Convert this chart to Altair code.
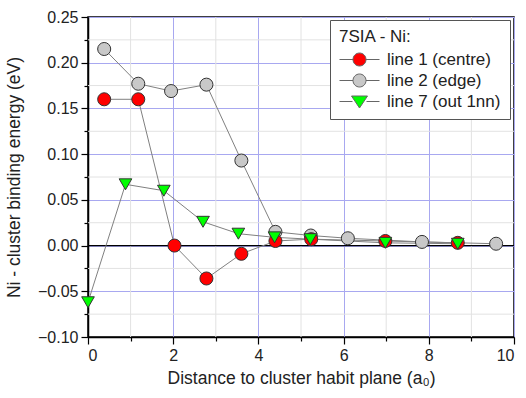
import altair as alt
import pandas as pd

# data
x1 = [0.38, 1.18, 2.03, 2.78, 3.60, 4.40, 5.24, 6.98, 8.68]
y1 = [0.160, 0.160, 0.000, -0.036, -0.009, 0.005, 0.007, 0.005, 0.003]
x2 = [0.38, 1.18, 1.95, 2.78, 3.60, 4.40, 5.23, 6.10, 7.84, 9.58]
y2 = [0.215, 0.177, 0.169, 0.176, 0.093, 0.015, 0.011, 0.008, 0.004, 0.002]
x7 = [0.00, 0.88, 1.78, 2.70, 3.53, 4.38, 5.22, 6.98, 8.68]
y7 = [-0.062, 0.067, 0.060, 0.026, 0.013, 0.009, 0.007, 0.003, 0.002]
series = ["line 1 (centre)", "line 2 (edge)", "line 7 (out 1nn)"]
fills = ["#ff0000", "#c8c8c8", "#00ff00"]
x_major = [0, 2, 4, 6, 8, 10]
y_major = [-0.10, -0.05, 0.00, 0.05, 0.10, 0.15, 0.20, 0.25]
x_minor = [1, 3, 5, 7, 9]
y_minor = [-0.075, -0.025, 0.025, 0.075, 0.125, 0.175, 0.225]

# legend symbols: marker with short line stubs on each side
CIRC = ("M -2 0 L -0.65 0 M 0.65 0 L 2 0 "
        "M 0.65 0 A 0.65 0.65 0 1 1 -0.65 0 A 0.65 0.65 0 1 1 0.65 0 Z")
TRI = ("M -2 0 L -0.7 0 M 0.7 0 L 2 0 "
       "M -0.8 -0.55 L 0.8 -0.55 L 0 0.65 Z")
legend_shapes = [CIRC, CIRC, TRI]

rows = []
for s, xs_, ys_ in zip(series, [x1, x2, x7], [y1, y2, y7]):
    for i, (a, b) in enumerate(zip(xs_, ys_)):
        rows.append({"series": s, "x": a, "y": b, "i": i})
df = pd.DataFrame(rows)
order_map = {series[1]: 0, series[0]: 1, series[2]: 2}
df["z"] = df["series"].map(order_map)

leg_df = pd.DataFrame({"series": series, "x": [None] * 3, "y": [None] * 3})

xs = alt.Scale(domain=[0, 10], nice=False, zero=False)
ys = alt.Scale(domain=[-0.10, 0.25], nice=False, zero=False)

common = dict(grid=True, gridColor="#a8a8f0", gridWidth=1, tickSize=7,
              labelFontSize=16, titleFontSize=17.5, labelPadding=3,
              domainColor="black", domainWidth=1.5, tickColor="black", tickWidth=1.2,
              labelColor="#222", titleColor="#222",
              labelFont="Liberation Sans", titleFont="Liberation Sans", titleFontWeight="normal")
xaxis = alt.Axis(values=x_major, format="d", title="Distance to cluster habit plane (a₀)",
                 titlePadding=6, orient="bottom", **common)
yaxis = alt.Axis(values=y_major, format=".2f", title="Ni - cluster binding energy (eV)",
                 titlePadding=14, orient="left", **common)
xminor_axis = alt.Axis(orient="bottom", labels=False, domain=False, grid=False, title=None,
                       tickSize=4, tickColor="black", tickWidth=1.2, values=x_minor)
yminor_axis = alt.Axis(orient="left", labels=False, domain=False, grid=False, title=None,
                       tickSize=4, tickColor="black", tickWidth=1.2, values=y_minor)

leg_spec = alt.Legend(title="7SIA - Ni:", orient="none", legendX=242, legendY=3)

gx = alt.Chart(pd.DataFrame({"x": x_minor})).mark_rule(color="#e2e2e2", strokeWidth=1).encode(
    x=alt.X("x:Q", scale=xs, axis=xminor_axis))
gy = alt.Chart(pd.DataFrame({"y": y_minor})).mark_rule(color="#e2e2e2", strokeWidth=1).encode(
    y=alt.Y("y:Q", scale=ys, axis=yminor_axis))
zero = alt.Chart(pd.DataFrame({"y": [0.0]})).mark_rule(color="#000000", strokeWidth=1.2).encode(
    y=alt.Y("y:Q", scale=ys, axis=None))

lines = alt.Chart(df).mark_line(color="#808080", strokeWidth=1).encode(
    x=alt.X("x:Q", scale=xs, axis=xaxis),
    y=alt.Y("y:Q", scale=ys, axis=yaxis),
    detail="series:N",
    order="i:Q",
)

fill_enc = alt.Fill("series:N", scale=alt.Scale(domain=series, range=fills), legend=leg_spec)

circles = alt.Chart(df).transform_filter(
    alt.datum.series != series[2]
).mark_point(shape="circle", filled=True, size=170, stroke="#333333", strokeWidth=1, opacity=1).encode(
    x=alt.X("x:Q", scale=xs, axis=xaxis),
    y=alt.Y("y:Q", scale=ys, axis=yaxis),
    fill=fill_enc,
    order="z:Q",
)
tris = alt.Chart(df).transform_filter(
    alt.datum.series == series[2]
).mark_point(shape="triangle-down", filled=True, size=160, stroke="#333333", strokeWidth=1, opacity=1).encode(
    x=alt.X("x:Q", scale=xs, axis=xaxis),
    y=alt.Y("y:Q", scale=ys, axis=yaxis),
    fill=fill_enc,
)

leg = alt.Chart(leg_df).mark_point(filled=True, size=400, stroke="#666666", strokeWidth=1, opacity=1).encode(
    x=alt.X("x:Q", scale=xs, axis=xaxis),
    y=alt.Y("y:Q", scale=ys, axis=yaxis),
    fill=fill_enc,
    shape=alt.Shape("series:N", scale=alt.Scale(domain=series, range=legend_shapes), legend=leg_spec),
)

main = alt.layer(lines, circles, tris, leg)
chart = alt.layer(gx, gy, zero, main).resolve_scale(x="independent", y="independent").properties(
    padding={"left": 88, "top": 17, "right": 12, "bottom": 61},
    autosize=alt.AutoSizeParams(type="none"),
    background="white",
)
chart = chart.properties(width=426, height=320).configure_view(stroke="black", strokeWidth=1.5).configure_legend(
    fillColor="white", strokeColor="#555555", padding=9, cornerRadius=0,
    titleFontSize=17, titleFontWeight="normal", titleColor="#222", titleFont="Liberation Sans",
    titlePadding=3,
    labelFontSize=17, labelColor="#222", labelFont="Liberation Sans",
    symbolSize=400, symbolStrokeColor="#666666", symbolStrokeWidth=1, rowPadding=2,
    symbolOffset=10, labelOffset=17,
)

chart.save("out.html", embed_options={"renderer": "svg", "actions": False})
